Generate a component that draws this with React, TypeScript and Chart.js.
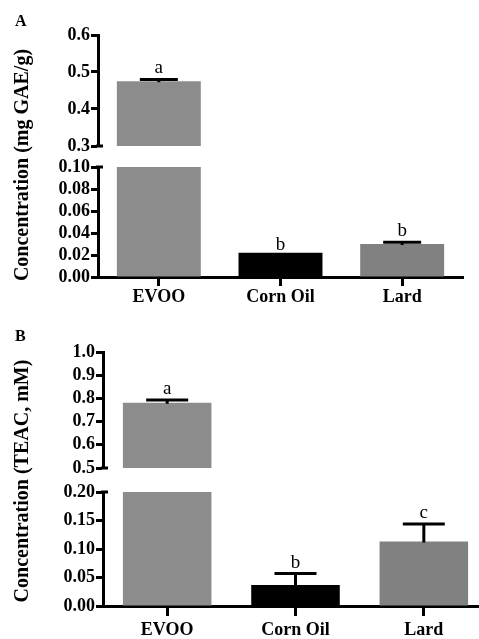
import React, { useEffect, useRef } from "react";
import { Chart, registerables } from "chart.js";

Chart.register(...registerables);

// ---------- data ----------
const categories = ["EVOO", "Corn Oil", "Lard"];
const barColors = ["#8c8c8c", "#000000", "#818181"];

// Panel A: total phenolics (mg GAE/g)
const phenolMeans = [0.475, 0.022, 0.03];
const phenolErrors = [0.005, 0, 0.0015];
const phenolLetters = ["a", "b", "b"];
const phenolUpperTicks = [0.3, 0.4, 0.5, 0.6];
const phenolLowerTicks = [0, 0.02, 0.04, 0.06, 0.08, 0.1];

// Panel B: antioxidant capacity (TEAC, mM)
const teacMeans = [0.781, 0.037, 0.113];
const teacErrors = [0.012, 0.02, 0.031];
const teacLetters = ["a", "b", "c"];
const teacUpperTicks = [0.5, 0.6, 0.7, 0.8, 0.9, 1.0];
const teacLowerTicks = [0, 0.05, 0.1, 0.15, 0.2];

const FONT = "'Liberation Serif', 'Times New Roman', serif";

type SegProps = {
  top: number;
  width: number;
  height: number;
  axisWidth: number;
  padTop: number;
  padBottom: number;
  padRight: number;
  showX: boolean;
  xHeight: number;
  xTickLength: number;
  xTickPadding: number;
  ticks: number[];
  decimals: number;
  means: number[];
  errors: number[];
  letters: string[];
  capHalf: number;
  breakEdge: "top" | "bottom";
};

function Segment(p: SegProps) {
  const ref = useRef<HTMLCanvasElement | null>(null);
  useEffect(() => {
    if (!ref.current) return;
    const overlay = {
      id: "overlay",
      afterDatasetsDraw(chart: any) {
        const ctx = chart.ctx;
        const xs = chart.scales.x;
        const ys = chart.scales.y;
        const area = chart.chartArea;
        ctx.save();
        ctx.strokeStyle = "#000";
        ctx.fillStyle = "#000";
        ctx.lineWidth = 3;
        p.means.forEach((m, i) => {
          if (m < ys.min || m > ys.max) return;
          const cx = xs.getPixelForValue(i);
          const yb = ys.getPixelForValue(m);
          const yt = ys.getPixelForValue(m + p.errors[i]);
          if (p.errors[i] > 0) {
            ctx.beginPath();
            ctx.moveTo(cx, yb + 1);
            ctx.lineTo(cx, yt);
            ctx.moveTo(cx - p.capHalf, yt);
            ctx.lineTo(cx + p.capHalf, yt);
            ctx.stroke();
          }
          ctx.font = `19px ${FONT}`;
          ctx.textAlign = "center";
          ctx.textBaseline = "alphabetic";
          ctx.fillText(p.letters[i], cx, yt - (p.errors[i] > 0 ? 6 : 3));
        });
        const by = p.breakEdge === "top" ? area.top : area.bottom;
        ctx.beginPath();
        ctx.moveTo(area.left - 2, by);
        ctx.lineTo(area.left + 5, by);
        ctx.stroke();
        ctx.restore();
      },
    };
    const tickFont = { family: FONT, size: 18, weight: "bold" as const };
    const chart = new Chart(ref.current, {
      type: "bar",
      data: {
        labels: categories,
        datasets: [
          {
            data: p.means,
            backgroundColor: barColors,
            borderWidth: 0,
            barPercentage: 0.69,
            categoryPercentage: 1,
            clip: 0,
          } as any,
        ],
      },
      options: {
        animation: false,
        responsive: false,
        events: [],
        layout: {
          padding: { top: p.padTop, bottom: p.padBottom, left: 0, right: p.padRight },
        },
        plugins: { legend: { display: false }, tooltip: { enabled: false }, title: { display: false } },
        scales: {
          x: {
            display: p.showX,
            offset: true,
            grid: {
              display: true,
              offset: false,
              drawOnChartArea: false,
              drawTicks: true,
              tickLength: p.xTickLength,
              tickWidth: 3,
              tickColor: "#000",
            },
            border: { display: true, width: 3, color: "#000" },
            ticks: {
              color: "#000",
              font: tickFont,
              padding: p.xTickPadding,
              maxRotation: 0,
              minRotation: 0,
              autoSkip: false,
            },
            afterFit: (s: any) => {
              s.height = p.xHeight;
            },
          },
          y: {
            min: p.ticks[0],
            max: p.ticks[p.ticks.length - 1],
            afterBuildTicks: (s: any) => {
              s.ticks = p.ticks.map((v) => ({ value: v }));
            },
            ticks: {
              color: "#000",
              font: tickFont,
              padding: 1,
              autoSkip: false,
              callback: (v: any) => Number(v).toFixed(p.decimals),
            },
            grid: {
              display: true,
              drawOnChartArea: false,
              drawTicks: true,
              tickLength: 7,
              tickWidth: 3,
              tickColor: "#000",
            },
            border: { display: true, width: 3, color: "#000" },
            afterFit: (s: any) => {
              s.width = p.axisWidth;
            },
          },
        },
      },
      plugins: [overlay],
    } as any);
    return () => chart.destroy();
  }, []);
  return (
    <canvas
      ref={ref}
      width={p.width}
      height={p.height}
      style={{ position: "absolute", left: 0, top: p.top, width: p.width, height: p.height }}
    />
  );
}

function Label({ text, left, top }: { text: string; left: number; top: number }) {
  return (
    <div
      style={{
        position: "absolute",
        left,
        top,
        font: `bold 16px ${FONT}`,
        lineHeight: "16px",
        color: "#000",
      }}
    >
      {text}
    </div>
  );
}

function AxisTitle({ text, cx, cy }: { text: string; cx: number; cy: number }) {
  return (
    <div
      style={{
        position: "absolute",
        left: cx - 200,
        top: cy - 12,
        width: 400,
        height: 24,
        lineHeight: "24px",
        textAlign: "center",
        whiteSpace: "nowrap",
        font: `bold 20px ${FONT}`,
        color: "#000",
        transform: "rotate(-90deg)",
      }}
    >
      {text}
    </div>
  );
}

export default function App() {
  return (
    <div
      style={{
        position: "absolute",
        left: 0,
        top: 0,
        width: 479,
        height: 639,
        overflow: "hidden",
        background: "#fff",
      }}
    >
      {/* Panel A */}
      <Segment
        top={20}
        width={479}
        height={141}
        axisWidth={98}
        padTop={15}
        padBottom={15}
        padRight={16}
        showX={false}
        xHeight={0}
        xTickLength={9}
        xTickPadding={1}
        ticks={phenolUpperTicks}
        decimals={1}
        means={phenolMeans}
        errors={phenolErrors}
        letters={phenolLetters}
        capHalf={19}
        breakEdge="bottom"
      />
      <Segment
        top={152}
        width={479}
        height={155}
        axisWidth={98}
        padTop={15}
        padBottom={0}
        padRight={16}
        showX={true}
        xHeight={30}
        xTickLength={9}
        xTickPadding={1}
        ticks={phenolLowerTicks}
        decimals={2}
        means={phenolMeans}
        errors={phenolErrors}
        letters={phenolLetters}
        capHalf={19}
        breakEdge="top"
      />
      {/* Panel B */}
      <Segment
        top={337}
        width={490}
        height={146}
        axisWidth={103}
        padTop={15}
        padBottom={15}
        padRight={2}
        showX={false}
        xHeight={0}
        xTickLength={10}
        xTickPadding={4}
        ticks={teacUpperTicks}
        decimals={1}
        means={teacMeans}
        errors={teacErrors}
        letters={teacLetters}
        capHalf={21}
        breakEdge="bottom"
      />
      <Segment
        top={477}
        width={490}
        height={162}
        axisWidth={103}
        padTop={15}
        padBottom={0}
        padRight={2}
        showX={true}
        xHeight={33}
        xTickLength={10}
        xTickPadding={4}
        ticks={teacLowerTicks}
        decimals={2}
        means={teacMeans}
        errors={teacErrors}
        letters={teacLetters}
        capHalf={21}
        breakEdge="top"
      />
      <Label text="A" left={15} top={13} />
      <Label text="B" left={15} top={328} />
      <AxisTitle text="Concentration (mg GAE/g)" cx={21.5} cy={165} />
      <AxisTitle text="Concentration (TEAC, mM)" cx={21.5} cy={481} />
    </div>
  );
}
